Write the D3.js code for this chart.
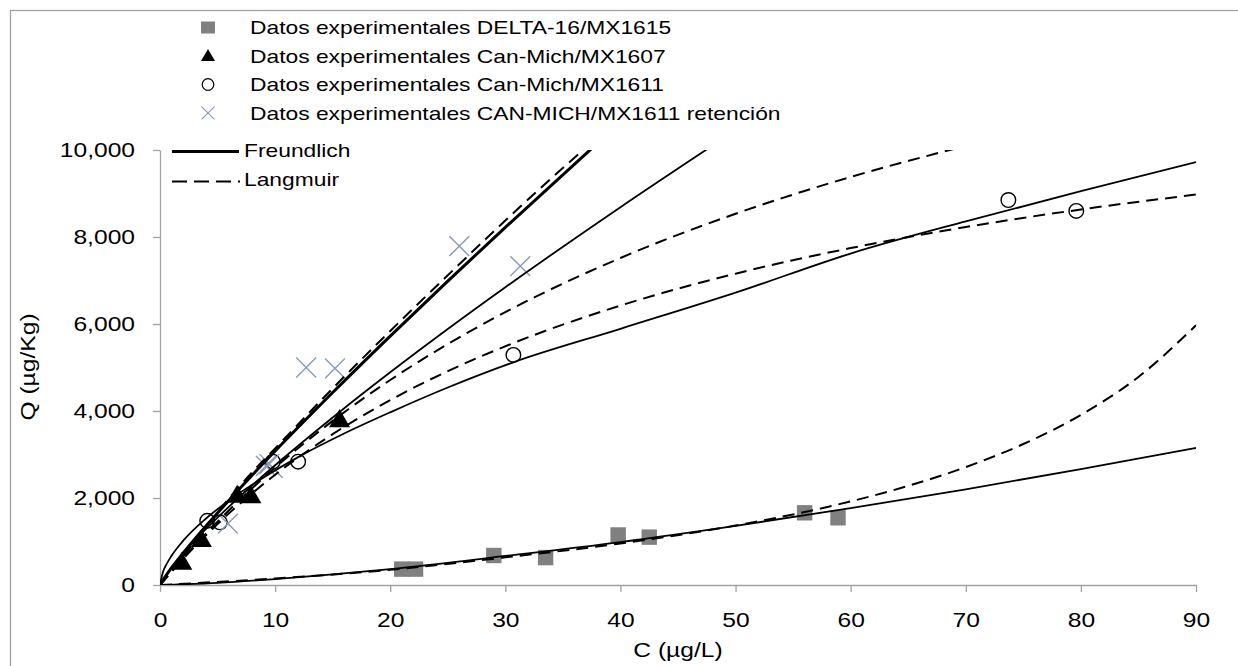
<!DOCTYPE html>
<html>
<head>
<meta charset="utf-8">
<script src="https://cdn.jsdelivr.net/npm/d3@7"></script>
<style>
  body { margin: 0; background: #fff; }
  svg { display: block; font-family: "Liberation Sans", Arial, sans-serif; }
</style>
</head>
<body>
<svg width="1238" height="666"></svg>
<script>
"use strict";

// experimental points
let deltaC = [21.0, 22.2, 29.0, 33.5, 39.8, 42.5, 56.0, 58.9];
let deltaQ = [365, 365, 678, 630, 1150, 1100, 1660, 1545];
let mx1607C = [1.9, 3.6, 6.7, 7.9, 15.6];
let mx1607Q = [510, 1035, 2050, 2040, 3790];
let mx1611C = [4.1, 5.2, 9.8, 12.0, 30.7, 73.7, 79.6];
let mx1611Q = [1475, 1440, 2835, 2835, 5290, 8850, 8600];
let retC = [5.9, 9.2, 9.5, 9.8, 12.7, 15.2, 26.0, 31.3];
let retQ = [1410, 2735, 2780, 2690, 5000, 4980, 7790, 7330];

// fitted isotherms
let freundC1 = [0, 0.5, 1, 2, 4, 6, 8, 10, 15, 20, 25, 30, 38];
let freundQ1 = [0, 211, 393, 730, 1357, 1950, 2523, 3079, 4425, 5722, 6987, 8222, 10155];
let langC1 = [0, 2, 4, 6, 8, 10, 15, 20, 25, 30, 37];
let langQ1 = [0, 650, 1330, 1990, 2590, 3140, 4520, 5840, 7120, 8380, 10060];

let freundC2 = [0, 1, 2, 4, 6, 8, 10, 15.6, 20, 25, 30, 40, 48];
let freundQ2 = [0, 408, 725, 1288, 1802, 2287, 2752, 3978, 4889, 5884, 6844, 8686, 10102];
let langC2 = [0, 2, 5, 10, 15, 20, 25, 30, 40, 50, 60, 70];
let langQ2 = [0, 611, 1455, 2698, 3773, 4712, 5539, 6273, 7518, 8534, 9380, 10094];

let freundC3 = [0, 0.25, 0.5, 1, 2, 4, 6, 9, 12, 16, 20, 25, 30.7, 40, 50, 60, 70, 80, 90];
let freundQ3 = [0, 295, 444, 671, 1013, 1528, 1946, 2473, 2940, 3483, 3970, 4540, 5120, 5890, 6720, 7620, 8360, 9052, 9720];
let langC3 = [0, 2, 5, 10, 15, 20, 25.2, 30.5, 40, 50, 60, 70, 80, 90];
let langQ3 = [0, 599, 1402, 2534, 3468, 4250, 4940, 5541, 6424, 7157, 7745, 8229, 8633, 8976];

let freundC4 = [0, 5, 10, 15, 20, 30, 40, 50, 60, 70, 80, 90];
let freundQ4 = [0, 51, 137, 243, 366, 668, 988, 1360, 1766, 2200, 2662, 3150];
let langC4 = [0, 10, 20, 30, 40, 50, 55, 60, 65, 70, 75, 80, 85, 90];
let langQ4 = [0, 150, 350, 636, 955, 1367, 1622, 1922, 2279, 2710, 3241, 3911, 4783, 5970];

let xTicks = [0, 10, 20, 30, 40, 50, 60, 70, 80, 90];
let yTicks = [0, 2000, 4000, 6000, 8000, 10000];

let legendLabels = [
    "Datos experimentales DELTA-16/MX1615",
    "Datos experimentales Can-Mich/MX1607",
    "Datos experimentales Can-Mich/MX1611",
    "Datos experimentales CAN-MICH/MX1611 retención",
    "Freundlich",
    "Langmuir"
];

let svg = d3.select("svg"),
    width = +svg.attr("width"),
    height = +svg.attr("height");

let x = d3.scaleLinear().domain([0, 90]).range([160, 1196]);
let y = d3.scaleLinear().domain([0, 10000]).range([585, 150]);

let grey = "#a2a2a2",
    crossColor = "#8a9bb6",
    squareColor = "#808080";

// text in the original is drawn a bit wider than Arial
function widen(sel, k) {
    sel.each(function() {
        let w = this.getComputedTextLength();
        d3.select(this).attr("textLength", w * k).attr("lengthAdjust", "spacingAndGlyphs");
    });
}

// chart border
svg.append("rect")
    .attr("x", 10.5).attr("y", 10.5)
    .attr("width", width + 20).attr("height", height + 20)
    .attr("fill", "none").attr("stroke", grey).attr("stroke-width", 1.3);

svg.append("clipPath").attr("id", "plot")
    .append("rect").attr("x", 160).attr("y", 150).attr("width", 1036).attr("height", 435);

// axes
let xAxis = svg.append("g")
    .attr("transform", "translate(0,585)")
    .call(d3.axisBottom(x).tickValues(xTicks).tickSize(7).tickSizeOuter(0).tickPadding(20));
let yAxis = svg.append("g")
    .attr("transform", "translate(160,0)")
    .call(d3.axisLeft(y).tickValues(yTicks).tickFormat(d3.format(",")).tickSize(7).tickSizeOuter(0).tickPadding(18));

[xAxis, yAxis].forEach(a => {
    a.select(".domain").attr("stroke", grey).attr("stroke-width", 1.3);
    a.selectAll(".tick line").attr("stroke", grey).attr("stroke-width", 1.3);
    a.selectAll(".tick text")
        .attr("fill", "#000")
        .style("font-size", "20.5px")
        .style("font-family", "'Liberation Sans', Arial, sans-serif")
        .call(widen, 1.2);
});

svg.append("text")
    .attr("x", 678).attr("y", 657)
    .attr("text-anchor", "middle")
    .style("font-size", "20.5px")
    .text("C (µg/L)")
    .call(widen, 1.2);

svg.append("text")
    .attr("transform", "translate(35,367) rotate(-90)")
    .attr("text-anchor", "middle")
    .style("font-size", "20.5px")
    .text("Q (µg/Kg)")
    .call(widen, 1.2);

// markers
function pairs(cs, qs) { return cs.map((c, i) => [c, qs[i]]); }

let marks = svg.append("g");

marks.selectAll("rect.sq")
    .data(pairs(deltaC, deltaQ))
    .enter().append("rect")
    .attr("class", "sq")
    .attr("x", d => x(d[0]) - 7.7)
    .attr("y", d => y(d[1]) - 7.7)
    .attr("width", 15.4).attr("height", 15.4)
    .attr("fill", squareColor);

let tri = d3.symbol().type(d3.symbolTriangle).size(190);
marks.selectAll("path.tri")
    .data(pairs(mx1607C, mx1607Q))
    .enter().append("path")
    .attr("class", "tri")
    .attr("d", tri)
    .attr("transform", d => "translate(" + x(d[0]) + "," + (y(d[1]) + 1) + ")")
    .attr("fill", "#000");

marks.selectAll("circle")
    .data(pairs(mx1611C, mx1611Q))
    .enter().append("circle")
    .attr("cx", d => x(d[0]))
    .attr("cy", d => y(d[1]))
    .attr("r", 7.3)
    .attr("fill", "none")
    .attr("stroke", "#000")
    .attr("stroke-width", 1.4);

let cross = d3.symbol().type(d3.symbolX).size(260);
marks.selectAll("path.cross")
    .data(pairs(retC, retQ))
    .enter().append("path")
    .attr("class", "cross")
    .attr("d", cross)
    .attr("transform", d => "translate(" + x(d[0]) + "," + y(d[1]) + ")")
    .attr("fill", "none")
    .attr("stroke", crossColor)
    .attr("stroke-width", 1.4);

// fitted curves
let curves = [
    { c: freundC1, q: freundQ1, w: 3, dash: null },
    { c: langC1, q: langQ1, w: 2, dash: "12,7" },
    { c: freundC2, q: freundQ2, w: 1.8, dash: null },
    { c: langC2, q: langQ2, w: 2, dash: "12,7" },
    { c: freundC3, q: freundQ3, w: 1.8, dash: null },
    { c: langC3, q: langQ3, w: 2, dash: "12,7" },
    { c: freundC4, q: freundQ4, w: 1.8, dash: null },
    { c: langC4, q: langQ4, w: 2, dash: "12,7" }
];

let line = d3.line()
    .x(d => x(d[0]))
    .y(d => y(d[1]))
    .curve(d3.curveMonotoneX);

svg.append("g").attr("clip-path", "url(#plot)")
    .selectAll("path")
    .data(curves)
    .enter().append("path")
    .attr("d", d => line(pairs(d.c, d.q)))
    .attr("fill", "none")
    .attr("stroke", "#000")
    .attr("stroke-width", d => d.w)
    .attr("stroke-dasharray", d => d.dash);

// legend
let legendY = [27.5, 56, 84.5, 113, 150.5, 179.5];
let legend = svg.append("g");

legend.selectAll("text")
    .data(legendLabels)
    .enter().append("text")
    .attr("x", (d, i) => i < 4 ? 250 : 244)
    .attr("y", (d, i) => legendY[i])
    .attr("dy", "0.35em")
    .attr("fill", "#000")
    .style("font-size", "19px")
    .text(d => d)
    .call(widen, 1.2);

legend.append("rect")
    .attr("x", 201).attr("y", legendY[0] - 6)
    .attr("width", 14).attr("height", 12)
    .attr("fill", squareColor);
legend.append("path")
    .attr("d", d3.symbol().type(d3.symbolTriangle).size(85))
    .attr("transform", "translate(208," + (legendY[1] + 1) + ")");
legend.append("circle")
    .attr("cx", 208).attr("cy", legendY[2]).attr("r", 5.8)
    .attr("fill", "none").attr("stroke", "#000").attr("stroke-width", 1.2);
legend.append("path")
    .attr("d", d3.symbol().type(d3.symbolX).size(110))
    .attr("transform", "translate(208," + legendY[3] + ")")
    .attr("fill", "none").attr("stroke", crossColor).attr("stroke-width", 1.2);

legend.append("line")
    .attr("x1", 172).attr("x2", 239)
    .attr("y1", legendY[4] + 1).attr("y2", legendY[4] + 1)
    .attr("stroke", "#000").attr("stroke-width", 3);
legend.append("line")
    .attr("x1", 172).attr("x2", 241)
    .attr("y1", legendY[5] + 2).attr("y2", legendY[5] + 2)
    .attr("stroke", "#000").attr("stroke-width", 2.2)
    .attr("stroke-dasharray", "15,7,15,7,15,7,2,3");
</script>
</body>
</html>
